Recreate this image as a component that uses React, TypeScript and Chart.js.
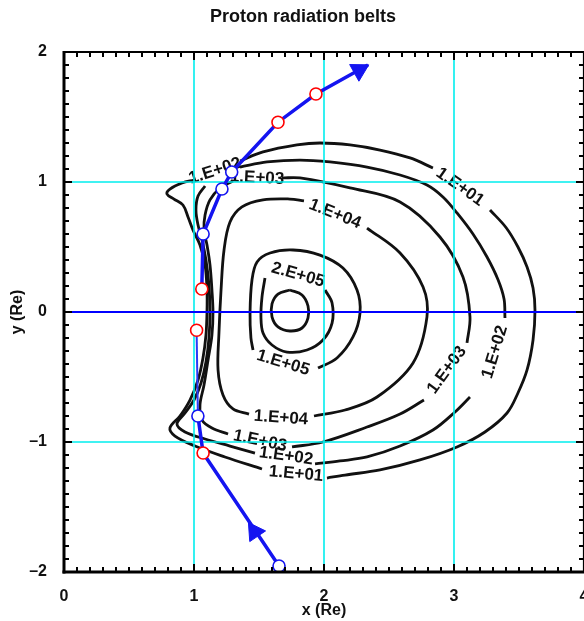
import React, { useEffect, useRef } from 'react';
import { Chart, registerables } from 'chart.js';

Chart.register(...registerables);

const FONT = "'Liberation Sans', Arial, Helvetica, sans-serif";

// ---- text ----
const chartTitle = 'Proton radiation belts';

// ---- axes ----
const xTicks = [0, 1, 2, 3, 4];
const xTickLabels = ['0', '1', '2', '3', '4'];
const yTicks = [-2, -1, 0, 1, 2];
const yTickLabels = ['\u20132', '\u20131', '0', '1', '2'];
const cyanGridX = [1, 2, 3];
const cyanGridY = [-1, 1];
const blueLineY = [0];

// ---- contour lines (x, y in Re), split where labels sit ----
type Seg = [number, number][];

const contour1e1: Seg[] = [
  [[1.0, 1.015], [0.908, 0.992], [0.815, 0.946], [0.792, 0.908], [0.846, 0.869], [0.915, 0.823], [0.954, 0.731], [0.992, 0.631], [1.046, 0.515], [1.085, 0.362], [1.1, 0.169], [1.1, 0], [1.092, -0.177], [1.069, -0.354], [1.031, -0.523], [0.969, -0.677], [0.892, -0.8], [0.815, -0.892], [0.854, -0.954], [1.008, -1.031], [1.238, -1.115], [1.523, -1.208]],
  [[2.023, -1.277], [2.162, -1.254], [2.431, -1.215], [2.738, -1.138], [3.023, -1.038], [3.238, -0.923], [3.408, -0.777], [3.492, -0.623], [3.562, -0.446], [3.608, -0.215], [3.623, 0.015], [3.608, 0.185], [3.562, 0.346], [3.492, 0.5], [3.4, 0.65], [3.277, 0.785]],
  [[2.838, 1.108], [2.662, 1.185], [2.431, 1.246], [2.2, 1.285], [1.969, 1.3], [1.792, 1.285], [1.531, 1.231], [1.354, 1.162]],
];

const contour1e2: Seg[] = [
  [[3.392, -0.046], [3.385, 0.1], [3.338, 0.25], [3.254, 0.423], [3.146, 0.6], [3.023, 0.762], [2.915, 0.885], [2.792, 0.977], [2.585, 1.054], [2.331, 1.115], [2.046, 1.154], [1.815, 1.169], [1.562, 1.154], [1.354, 1.115]],
  [[1.085, 0.969], [1.031, 0.892], [1.015, 0.785], [1.031, 0.669], [1.062, 0.554], [1.092, 0.4], [1.115, 0.208], [1.123, 0], [1.115, -0.2], [1.092, -0.385], [1.054, -0.546], [1.0, -0.677], [0.931, -0.777], [0.869, -0.862], [0.931, -0.923], [1.085, -0.977], [1.277, -1.031], [1.469, -1.085]],
  [[1.931, -1.169], [2.123, -1.146], [2.331, -1.115], [2.585, -1.031], [2.838, -0.908], [3.008, -0.769], [3.123, -0.654]],
];

const contour1e3: Seg[] = [
  [[1.677, 1.031], [1.815, 1.031], [2.2, 0.954], [2.585, 0.846], [2.892, 0.577], [3.069, 0.269], [3.123, -0.038], [3.1, -0.238]],
  [[2.769, -0.677], [2.585, -0.785], [2.331, -0.885], [1.992, -1.0], [1.754, -1.038]],
  [[1.262, -0.938], [1.138, -0.892], [1.062, -0.831], [1.046, -0.715], [1.077, -0.562], [1.108, -0.369], [1.138, -0.177], [1.146, 0], [1.138, 0.169], [1.123, 0.362], [1.1, 0.515], [1.077, 0.631], [1.085, 0.746], [1.123, 0.862], [1.2, 0.954], [1.3, 1.008]],
];

const contour1e4: Seg[] = [
  [[2.331, 0.646], [2.585, 0.454], [2.762, 0.192], [2.792, -0.038], [2.685, -0.392], [2.408, -0.654], [2.162, -0.754], [1.923, -0.8]],
  [[1.423, -0.785], [1.3, -0.746], [1.223, -0.638], [1.185, -0.446], [1.192, -0.162], [1.208, 0.169], [1.231, 0.477], [1.277, 0.692], [1.369, 0.808], [1.531, 0.862], [1.738, 0.869], [1.846, 0.854]],
];

const contour1e5: Seg[] = [
  [[1.954, -0.431], [2.1, -0.354], [2.223, -0.192], [2.277, -0.008], [2.254, 0.169], [2.146, 0.338], [1.969, 0.438], [1.762, 0.477], [1.585, 0.454], [1.485, 0.385], [1.446, 0.246], [1.431, -0.008], [1.438, -0.2], [1.454, -0.292]],
];

const contour2e5: Seg[] = [
  [[2.008, 0.169], [2.062, 0.069], [2.062, -0.085], [1.992, -0.215], [1.869, -0.292], [1.715, -0.308], [1.6, -0.254], [1.531, -0.162], [1.515, -0.038], [1.523, 0.115], [1.546, 0.262]],
];

const contourCore: Seg[] = [
  [[1.738, 0.169], [1.831, 0.131], [1.877, 0.046], [1.877, -0.046], [1.831, -0.123], [1.738, -0.146], [1.646, -0.115], [1.6, -0.038], [1.6, 0.062], [1.646, 0.138], [1.738, 0.169]],
];

const contourLabels = [
  { text: '1.E+02', x: 1.162, y: 1.085, rot: -18 },
  { text: '1.E+03', x: 1.485, y: 1.031, rot: 3 },
  { text: '1.E+04', x: 2.085, y: 0.754, rot: 22 },
  { text: '1.E+01', x: 3.046, y: 0.962, rot: 35 },
  { text: '2.E+05', x: 1.8, y: 0.285, rot: 16 },
  { text: '1.E+05', x: 1.685, y: -0.392, rot: 17 },
  { text: '1.E+03', x: 2.946, y: -0.446, rot: -54 },
  { text: '1.E+02', x: 3.315, y: -0.308, rot: -73 },
  { text: '1.E+04', x: 1.669, y: -0.815, rot: 4 },
  { text: '1.E+03', x: 1.508, y: -0.992, rot: 12 },
  { text: '1.E+02', x: 1.708, y: -1.108, rot: 8 },
  { text: '1.E+01', x: 1.785, y: -1.246, rot: 5 },
];

// ---- trajectory ----
const trajectoryIn: Seg = [[1.654, -1.954], [1.07, -1.085], [1.03, -0.8]];
const trajectoryThin: Seg = [[1.03, -0.8], [1.02, -0.14]];
const trajectoryOut: Seg = [[1.06, 0.177], [1.07, 0.6], [1.215, 0.946], [1.29, 1.077], [1.646, 1.46], [1.938, 1.677], [2.338, 1.9]];
const redMarkers: Seg = [[1.07, -1.085], [1.02, -0.14], [1.06, 0.177], [1.646, 1.46], [1.938, 1.677]];
const whiteMarkers: Seg = [[1.654, -1.954], [1.03, -0.8], [1.07, 0.6], [1.215, 0.946], [1.29, 1.077]];
const arrowHeads: Seg = [[2.27, 1.86], [1.466, -1.69]];
const arrowAngles = [61, -34];

const BLUE = '#1414f0';
const CYAN = '#00eeee';

const toPts = (s: Seg) => s.map(([x, y]) => ({ x, y }));

const overlayPlugin = {
  id: 'overlay',
  beforeDatasetsDraw(chart: any) {
    chart.$overlayDone = false;
  },
  beforeDatasetDraw(chart: any, args: any) {
    const ds = chart.data.datasets[args.index];
    if (chart.$overlayDone || ds.order >= 10) return;
    chart.$overlayDone = true;
    const { ctx, chartArea: a, scales } = chart;
    const xs = scales.x;
    const ys = scales.y;
    ctx.save();
    // contour labels
    ctx.fillStyle = '#111';
    ctx.font = `bold 17px ${FONT}`;
    ctx.textAlign = 'center';
    ctx.textBaseline = 'middle';
    for (const l of contourLabels) {
      ctx.save();
      ctx.translate(xs.getPixelForValue(l.x), ys.getPixelForValue(l.y));
      ctx.rotate((l.rot * Math.PI) / 180);
      ctx.fillText(l.text, 0, 0);
      ctx.restore();
    }
    // grid lines
    ctx.strokeStyle = CYAN;
    ctx.lineWidth = 1.6;
    for (const v of cyanGridX) {
      const px = xs.getPixelForValue(v);
      ctx.beginPath();
      ctx.moveTo(px, a.top);
      ctx.lineTo(px, a.bottom);
      ctx.stroke();
    }
    for (const v of cyanGridY) {
      const py = ys.getPixelForValue(v);
      ctx.beginPath();
      ctx.moveTo(a.left, py);
      ctx.lineTo(a.right, py);
      ctx.stroke();
    }
    ctx.strokeStyle = '#0000ff';
    ctx.lineWidth = 2;
    for (const v of blueLineY) {
      const py = ys.getPixelForValue(v);
      ctx.beginPath();
      ctx.moveTo(a.left, py);
      ctx.lineTo(a.right, py);
      ctx.stroke();
    }
    ctx.restore();
  },
  afterDraw(chart: any) {
    const { ctx, chartArea: a, scales } = chart;
    const xs = scales.x;
    const ys = scales.y;
    ctx.save();
    // title
    ctx.fillStyle = '#111';
    ctx.font = `bold 18px ${FONT}`;
    ctx.textAlign = 'center';
    ctx.textBaseline = 'middle';
    ctx.fillText(chartTitle, (a.left + a.right) / 2 - 21, a.top - 35);

    ctx.strokeStyle = '#000';
    const seg = (x1: number, y1: number, x2: number, y2: number) => {
      ctx.beginPath();
      ctx.moveTo(x1, y1);
      ctx.lineTo(x2, y2);
      ctx.stroke();
    };
    // ticks
    ctx.lineWidth = 2;
    const nx = Math.round((xs.max - xs.min) / 0.1);
    for (let i = 0; i <= nx; i++) {
      const v = xs.min + i * 0.1;
      const len = i % 10 === 0 ? 8 : 5;
      const px = xs.getPixelForValue(v);
      seg(px, a.bottom, px, a.bottom - len);
      seg(px, a.top, px, a.top + len);
    }
    const ny = Math.round((ys.max - ys.min) / 0.1);
    for (let i = 0; i <= ny; i++) {
      const v = ys.min + i * 0.1;
      const len = i % 10 === 0 ? 8 : 5;
      const py = ys.getPixelForValue(v);
      seg(a.left, py, a.left + len, py);
      seg(a.right, py, a.right - len, py);
    }
    // frame
    ctx.lineWidth = 3;
    seg(a.left, a.top - 1, a.left, a.bottom + 1.5);
    seg(a.left - 1.5, a.bottom, a.right, a.bottom);
    ctx.lineWidth = 2.2;
    seg(a.left, a.top, a.right, a.top);
    seg(a.right, a.top, a.right, a.bottom);
    ctx.restore();
  },
};

export default function App() {
  const ref = useRef<HTMLCanvasElement>(null);

  useEffect(() => {
    const canvas = ref.current;
    if (!canvas) return;

    const datasets: any[] = [];
    const contours = [contour1e1, contour1e2, contour1e3, contour1e4, contour1e5, contour2e5, contourCore];
    contours.forEach((c) =>
      c.forEach((s) =>
        datasets.push({
          data: toPts(s),
          showLine: true,
          borderColor: '#111',
          borderWidth: 2.8,
          pointRadius: 0,
          tension: 0.35,
          fill: false,
          order: 10,
        })
      )
    );
    datasets.push({
      data: toPts(trajectoryIn),
      showLine: true,
      borderColor: BLUE,
      borderWidth: 3.5,
      pointRadius: 0,
      tension: 0,
      order: 3,
    });
    datasets.push({
      data: toPts(trajectoryThin),
      showLine: true,
      borderColor: '#2a3cf5',
      borderWidth: 2,
      pointRadius: 0,
      tension: 0,
      order: 3,
    });
    datasets.push({
      data: toPts(trajectoryOut),
      showLine: true,
      borderColor: BLUE,
      borderWidth: 3.5,
      pointRadius: 0,
      tension: 0,
      order: 3,
    });
    datasets.push({
      data: toPts(arrowHeads),
      showLine: false,
      pointStyle: 'triangle',
      pointRadius: 11,
      rotation: arrowAngles,
      backgroundColor: BLUE,
      borderColor: BLUE,
      borderWidth: 1,
      order: 2,
      clip: false,
    });
    datasets.push({
      data: toPts(redMarkers),
      showLine: false,
      pointStyle: 'circle',
      pointRadius: 6,
      backgroundColor: '#ffffff',
      borderColor: '#ff0000',
      borderWidth: 1.6,
      order: 1,
      clip: false,
    });
    datasets.push({
      data: toPts(whiteMarkers),
      showLine: false,
      pointStyle: 'circle',
      pointRadius: 6,
      backgroundColor: '#ffffff',
      borderColor: BLUE,
      borderWidth: 1.6,
      order: 1,
      clip: false,
    });

    const chart = new Chart(canvas, {
      type: 'scatter',
      data: { datasets },
      plugins: [overlayPlugin as any],
      options: {
        responsive: false,
        animation: false,
        devicePixelRatio: 1,
        events: [],
        layout: { padding: { top: 52, left: 0, right: 0, bottom: 0 }, autoPadding: false } as any,
        plugins: {
          legend: { display: false },
          tooltip: { enabled: false },
          title: { display: false },
        },
        scales: {
          x: {
            type: 'linear',
            min: xTicks[0],
            max: xTicks[xTicks.length - 1],
            grid: { display: false },
            border: { display: false },
            ticks: {
              stepSize: 1,
              padding: 7,
              color: '#111',
              font: { family: FONT, size: 16, weight: 'bold' },
              maxRotation: 0,
              autoSkip: false,
              callback: (v: any) => {
                const i = xTicks.indexOf(Number(v));
                return i >= 0 ? xTickLabels[i] : '';
              },
            },
            title: {
              display: true,
              text: 'x (Re)',
              color: '#111',
              font: { family: FONT, size: 16, weight: 'bold' },
              padding: { top: 0, bottom: 1 },
            },
            afterFit: (s: any) => {
              s.height = 49;
              s.paddingLeft = 0;
              s.paddingRight = 0;
            },
          },
          y: {
            type: 'linear',
            min: yTicks[0],
            max: yTicks[yTicks.length - 1],
            grid: { display: false },
            border: { display: false },
            ticks: {
              stepSize: 1,
              padding: 9,
              color: '#111',
              font: { family: FONT, size: 16, weight: 'bold' },
              autoSkip: false,
              callback: (v: any) => {
                const i = yTicks.indexOf(Number(v));
                return i >= 0 ? yTickLabels[i] : '';
              },
            },
            title: {
              display: true,
              text: 'y (Re)',
              color: '#111',
              font: { family: FONT, size: 16, weight: 'bold' },
              padding: { top: 8, bottom: 0 },
            },
            afterFit: (s: any) => {
              s.width = 64;
              s.paddingTop = 0;
              s.paddingBottom = 0;
            },
          },
        },
      } as any,
    });

    return () => {
      chart.destroy();
    };
  }, []);

  return (
    <div style={{ position: 'absolute', left: 0, top: 0, width: 584, height: 621, background: '#fff' }}>
      <canvas ref={ref} width={584} height={621} style={{ display: 'block' }} />
    </div>
  );
}
